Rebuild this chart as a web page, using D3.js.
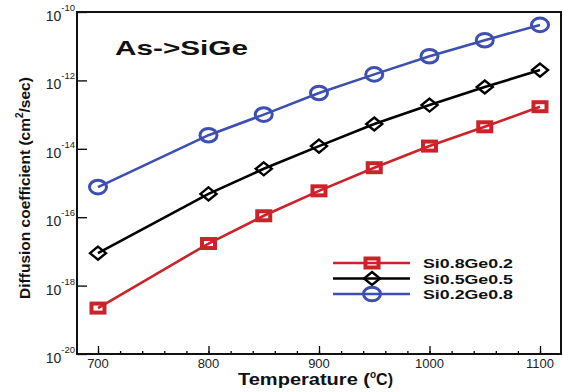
<!DOCTYPE html>
<html>
<head>
<meta charset="utf-8">
<script src="https://cdn.jsdelivr.net/npm/d3@7"></script>
<style>
  body { margin: 0; background: #fff; }
  svg { display: block; font-family: Arial, "Liberation Sans", sans-serif; }
</style>
</head>
<body>
<svg width="563" height="392"></svg>
<script>
const temps = [700, 800, 850, 900, 950, 1000, 1050, 1100];
const si08ge02 = [2.2e-19, 1.7e-17, 1.1e-16, 5.9e-16, 2.8e-15, 1.2e-14, 4.4e-14, 1.7e-13];
const si05ge05 = [8.9e-18, 4.8e-16, 2.6e-15, 1.2e-14, 5.3e-14, 1.9e-13, 6.4e-13, 2.0e-12];
const si02ge08 = [7.6e-16, 2.5e-14, 1.0e-13, 4.3e-13, 1.5e-12, 5.1e-12, 1.5e-11, 4.2e-11];
const seriesNames = ['Si0.8Ge0.2', 'Si0.5Ge0.5', 'Si0.2Ge0.8'];
const xTicks = [700, 800, 900, 1000, 1100];
const yExps = [-20, -18, -16, -14, -12, -10];

const svg = d3.select('svg'),
    margin = {top: 12, right: 2, bottom: 38, left: 77},
    width = 563 - margin.left - margin.right,
    height = 392 - margin.top - margin.bottom;

const x = d3.scaleLinear().domain([681, 1119]).range([0, width]);
const y = d3.scaleLog().domain([1e-20, 1e-10]).range([height, 0]);

const g = svg.append('g')
    .attr('transform', 'translate(' + margin.left + ',' + margin.top + ')');

// x axis: major ticks with labels, minor every 20
const xAxis = g.append('g').attr('transform', 'translate(0,' + height + ')');
xAxis.call(d3.axisTop(x).tickValues(d3.range(700, 1101, 20)).tickSize(3).tickFormat(''));
xAxis.call(s => s.append('g').call(d3.axisTop(x).tickValues(xTicks).tickSize(8).tickFormat('')));
xAxis.selectAll('.domain').remove();
xAxis.selectAll('line').attr('stroke', '#000').attr('stroke-width', 1.3);
xAxis.selectAll('.xlab').data(xTicks).enter().append('text')
    .attr('x', d => x(d)).attr('y', 13.5)
    .attr('text-anchor', 'middle').attr('font-size', 13).attr('fill', '#222')
    .text(d => d);

// y axis
const yAxis = g.append('g');
yAxis.call(d3.axisRight(y).tickValues(yExps.map(e => Math.pow(10, e))).tickSize(10).tickFormat(''));
yAxis.selectAll('.domain').remove();
yAxis.selectAll('line').attr('stroke', '#000').attr('stroke-width', 1.3);
const ylab = yAxis.selectAll('.ylab').data(yExps).enter().append('text')
    .attr('x', -2).attr('y', d => y(Math.pow(10, d)) + 9)
    .attr('text-anchor', 'end').attr('fill', '#222');
ylab.append('tspan').attr('font-size', 14).text('10');
ylab.append('tspan').attr('font-size', 9.5).attr('dy', -10).text(d => '' + d);

// frame
g.append('rect').attr('width', width).attr('height', height)
    .attr('fill', 'none').attr('stroke', '#111').attr('stroke-width', 2);

const series = [
  {name: seriesNames[0], values: si08ge02, color: '#cc2229', shape: 'square'},
  {name: seriesNames[1], values: si05ge05, color: '#000000', shape: 'diamond'},
  {name: seriesNames[2], values: si02ge08, color: '#3d4fb0', shape: 'circle'}
];

function marker(sel, shape, color) {
  if (shape === 'square') {
    sel.append('rect').attr('x', -6.5).attr('y', -4.5).attr('width', 13).attr('height', 9)
        .attr('fill', 'none').attr('stroke', color).attr('stroke-width', 4);
  } else if (shape === 'diamond') {
    sel.append('path').attr('d', 'M0,-6.5L8,0L0,6.5L-8,0Z')
        .attr('fill', 'none').attr('stroke', color).attr('stroke-width', 2.4);
  } else {
    sel.append('ellipse').attr('rx', 8.5).attr('ry', 6.8)
        .attr('fill', 'none').attr('stroke', color).attr('stroke-width', 3);
  }
}

const line = d3.line().x(d => x(d[0])).y(d => y(d[1]));

series.forEach(s => {
  const pts = temps.map((t, i) => [t, s.values[i]]);
  g.append('path').datum(pts).attr('d', line)
      .attr('fill', 'none').attr('stroke', s.color).attr('stroke-width', 2.6);
  g.selectAll(null).data(pts).enter().append('g')
      .attr('transform', d => 'translate(' + x(d[0]) + ',' + y(d[1]) + ')')
      .each(function() { marker(d3.select(this), s.shape, s.color); });
});

// legend
const legend = g.append('g').attr('transform', 'translate(256,251)');
series.forEach((s, i) => {
  const row = legend.append('g').attr('transform', 'translate(0,' + (i * 15.5) + ')');
  row.append('line').attr('x1', 0).attr('x2', 77)
      .attr('stroke', s.color).attr('stroke-width', 2.6);
  const m = row.append('g').attr('transform', 'translate(39,0)');
  marker(m, s.shape, s.color);
  row.append('text').attr('x', 90).attr('y', 5)
      .attr('font-size', 12.5).attr('font-weight', 'bold').attr('fill', '#111')
      .attr('textLength', 90).attr('lengthAdjust', 'spacingAndGlyphs')
      .text(s.name);
});

// title
g.append('text').attr('x', 38).attr('y', 43)
    .attr('font-size', 21).attr('font-weight', 'bold').attr('fill', '#111')
    .attr('textLength', 133).attr('lengthAdjust', 'spacingAndGlyphs')
    .text('As->SiGe');

// axis titles
const xt = svg.append('text').attr('x', 238).attr('y', 385)
    .attr('font-size', 16).attr('font-weight', 'bold').attr('fill', '#111');
xt.append('tspan').attr('textLength', 132).attr('lengthAdjust', 'spacingAndGlyphs').text('Temperature (');
xt.append('tspan').attr('font-size', 10).attr('dy', -7).text('o');
xt.append('tspan').attr('dy', 7).text('C)');

const yt = svg.append('text')
    .attr('transform', 'translate(30,188) rotate(-90)')
    .attr('text-anchor', 'middle').attr('font-size', 15.5).attr('font-weight', 'bold').attr('fill', '#111');
yt.append('tspan').text('Diffusion coefficient (cm');
yt.append('tspan').attr('font-size', 10).attr('dy', -7).text('2');
yt.append('tspan').attr('dy', 7).text('/sec)');
</script>
</body>
</html>
